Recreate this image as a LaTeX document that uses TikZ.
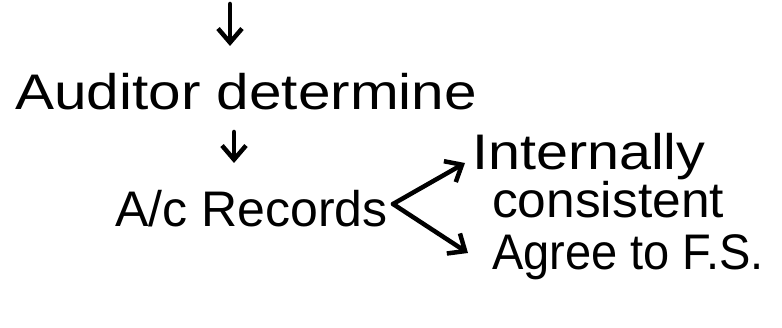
\documentclass[tikz,border=0pt]{standalone}
\usepackage{fontspec}
\setmainfont{Liberation Sans}
\usetikzlibrary{arrows.meta}
\begin{document}
\begin{tikzpicture}[x=1pt,y=-1pt,
  hand/.style={font=\fontsize{50}{56}\selectfont, inner sep=0pt, anchor=base west},
  pen/.style={line width=4.5pt, line cap=round, line join=round},
  tip/.style={pen, -{Straight Barb[length=14pt,width=24pt,line width=4.5pt]}}]
\useasboundingbox (0,0) rectangle (782,328);
% labels
\node[hand, xscale=1.17] (aud) at (15,110) {Auditor determine};
\node[hand, xscale=1.0] (rec) at (115,227) {A/c Records};
\node[hand, xscale=1.15] (int) at (472,170) {Internally};
\node[hand, xscale=1.03] (con) at (492,218) {consistent};
\node[hand, xscale=0.94] (agr) at (492,270) {Agree to F.S.};
% arrows
\coordinate (top) at (230,4);
\coordinate (a1) at (230,46);
\coordinate (b0) at (234,132);
\coordinate (b1) at (234,163);
\coordinate (fork) at (393,204);
\coordinate (up) at (465,163);
\coordinate (dn) at (468,253);
\draw[tip] (top) -- (a1);
\draw[tip] (b0) -- (b1);
\draw[tip] (fork) -- (up);
\draw[tip] (fork) -- (dn);
\end{tikzpicture}
\end{document}
